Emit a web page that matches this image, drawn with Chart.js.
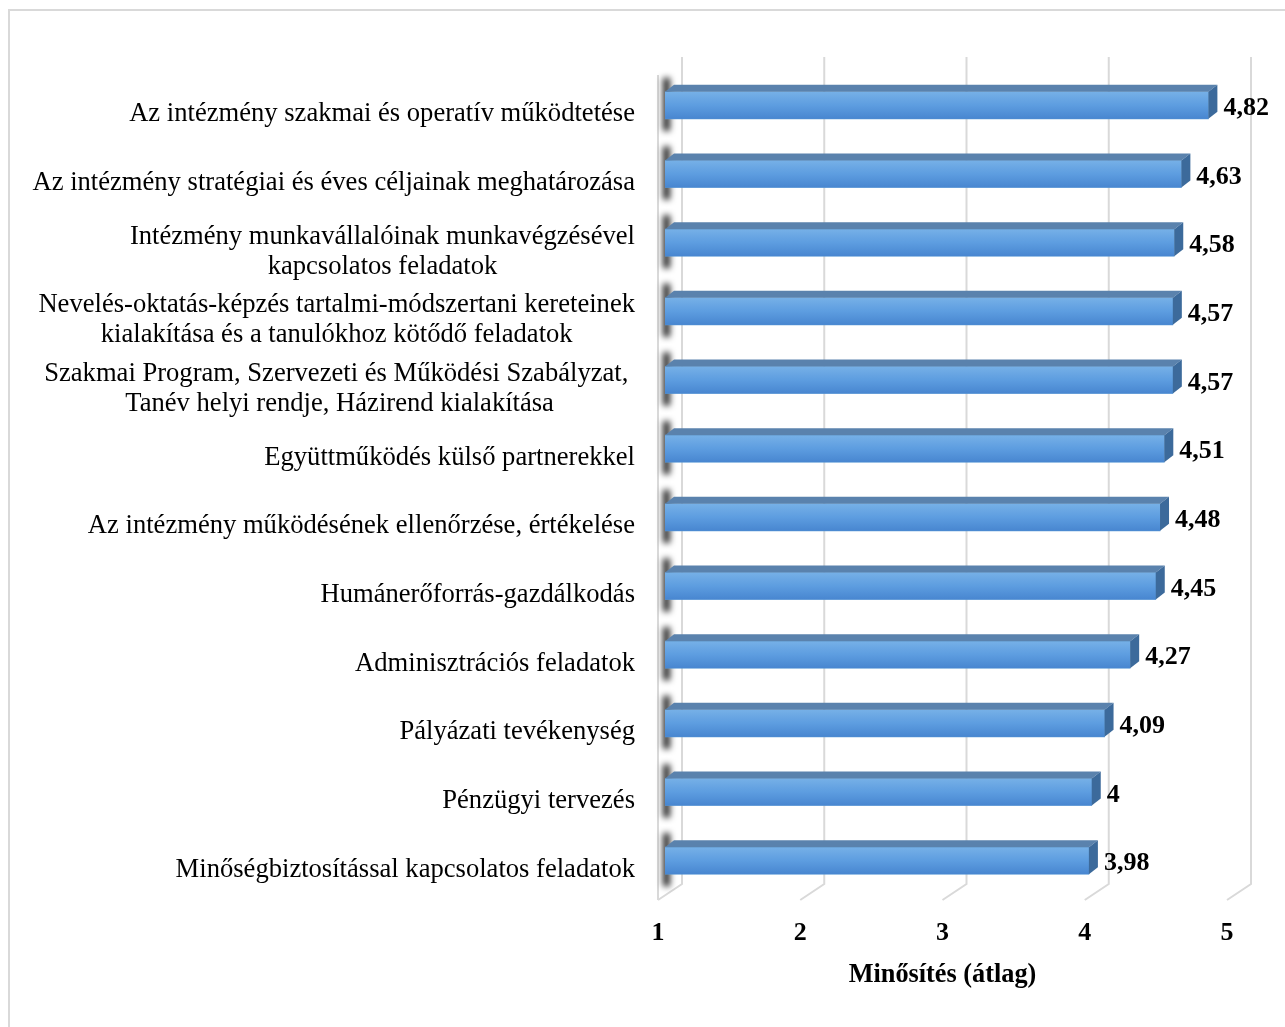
<!DOCTYPE html>
<html>
<head>
<meta charset="utf-8">
<script src="https://cdn.jsdelivr.net/npm/chart.js@4.4.0/dist/chart.umd.min.js"></script>
<style>
  html, body { margin: 0; padding: 0; background: #fff; overflow: hidden; }
  #frame { position: absolute; left: 8px; top: 9px; width: 1400px; height: 1100px; border: 2px solid #d9d9d9; }
  #wrap { position: absolute; left: 0; top: 0; width: 1285px; height: 1027px; }
</style>
</head>
<body>
<div id="frame"></div>
<div id="wrap"><canvas id="chart" width="1285" height="1027"></canvas></div>
<script>
// categories (multi-line labels are split into lines)
const categories = [
  ['Az intézmény szakmai és operatív működtetése'],
  ['Az intézmény stratégiai és éves céljainak meghatározása'],
  ['Intézmény munkavállalóinak munkavégzésével', 'kapcsolatos feladatok'],
  ['Nevelés-oktatás-képzés tartalmi-módszertani kereteinek', 'kialakítása és a tanulókhoz kötődő feladatok'],
  ['Szakmai Program, Szervezeti és Működési Szabályzat, ', 'Tanév helyi rendje, Házirend kialakítása'],
  ['Együttműködés külső partnerekkel'],
  ['Az intézmény működésének ellenőrzése, értékelése'],
  ['Humánerőforrás-gazdálkodás'],
  ['Adminisztrációs feladatok'],
  ['Pályázati tevékenység'],
  ['Pénzügyi tervezés'],
  ['Minőségbiztosítással kapcsolatos feladatok']
];
const values = [4.82, 4.63, 4.58, 4.57, 4.57, 4.51, 4.48, 4.45, 4.27, 4.09, 4, 3.98];
const axisTicks = [1, 2, 3, 4, 5];
const axisTitle = 'Minősítés (átlag)';

const FONT = '"Liberation Serif", "Times New Roman", serif';
const DX = 9, DY = 7; // bar depth

const fmt = v => String(v).replace('.', ',');

// back wall, floor lines and the shadows on the left wall
const wallPlugin = {
  id: 'wall',
  beforeDatasetsDraw(chart) {
    const { ctx, chartArea: a, scales: { x } } = chart;
    const backTop = a.top - 14, backBottom = a.bottom - 11, frontBottom = a.bottom + 5;
    ctx.save();
    ctx.strokeStyle = '#d9d9d9';
    ctx.lineWidth = 2;
    axisTicks.forEach(v => {
      const px = x.getPixelForValue(v);
      ctx.beginPath();
      ctx.moveTo(px + 17, backTop);
      ctx.lineTo(px + 17, backBottom);
      ctx.lineTo(px - 7, frontBottom);
      ctx.stroke();
    });
    const left = x.getPixelForValue(axisTicks[0]) - 7;
    ctx.beginPath();
    ctx.moveTo(left, a.top + 4);
    ctx.lineTo(left, frontBottom);
    ctx.stroke();

    chart.getDatasetMeta(0).data.forEach(bar => {
      const { base, y, height } = bar.getProps(['base', 'y', 'height'], true);
      ctx.save();
      ctx.filter = 'blur(3px)';
      ctx.fillStyle = 'rgba(0,0,0,0.85)';
      ctx.fillRect(base - 2, y - height / 2 - 14, 7, height + 26);
      ctx.restore();
    });
    ctx.restore();
  }
};

// 3d faces of the bars + labels
const barPlugin = {
  id: 'bars3d',
  afterDatasetsDraw(chart) {
    const { ctx } = chart;
    ctx.save();
    chart.getDatasetMeta(0).data.forEach((bar, i) => {
      const { x: end, base, y, height } = bar.getProps(['x', 'base', 'y', 'height'], true);
      const top = y - height / 2, bottom = y + height / 2;

      const g = ctx.createLinearGradient(0, top, 0, bottom);
      g.addColorStop(0, '#76b0e7');
      g.addColorStop(0.5, '#5d9de0');
      g.addColorStop(1, '#4886d0');
      ctx.fillStyle = g;
      ctx.fillRect(base, top, end - base, height);

      ctx.fillStyle = '#5a82ad';
      ctx.beginPath();
      ctx.moveTo(base, top);
      ctx.lineTo(base + DX, top - DY);
      ctx.lineTo(end + DX, top - DY);
      ctx.lineTo(end, top);
      ctx.closePath();
      ctx.fill();

      ctx.fillStyle = '#3c6a9b';
      ctx.beginPath();
      ctx.moveTo(end, top);
      ctx.lineTo(end + DX, top - DY);
      ctx.lineTo(end + DX, bottom - DY);
      ctx.lineTo(end, bottom);
      ctx.closePath();
      ctx.fill();

      ctx.fillStyle = '#000';
      ctx.font = 'bold 26px ' + FONT;
      ctx.textAlign = 'left';
      ctx.textBaseline = 'middle';
      ctx.fillText(fmt(values[i]), end + 15, y + 3);
    });
    ctx.restore();
  },
  afterDraw(chart) {
    const { ctx, chartArea: a, scales: { x, y } } = chart;
    ctx.save();
    ctx.fillStyle = '#000';
    ctx.textAlign = 'center';
    ctx.textBaseline = 'middle';

    // category labels: block right aligned, lines centred inside the block
    ctx.font = '26.6px ' + FONT;
    const right = a.left - 30, lineH = 30;
    categories.forEach((lines, i) => {
      const cy = y.getPixelForValue(i) + 9;
      const w = Math.max(...lines.map(l => ctx.measureText(l).width));
      const cx = right - w / 2;
      lines.forEach((l, k) => {
        ctx.fillText(l, cx, cy + (k - (lines.length - 1) / 2) * lineH);
      });
    });

    // axis title, centred under the front tick labels
    ctx.font = 'bold 26.3px ' + FONT;
    const first = x.getPixelForValue(axisTicks[0]) - 7;
    const last = x.getPixelForValue(axisTicks[axisTicks.length - 1]) - 7;
    ctx.fillText(axisTitle, (first + last) / 2, a.bottom + 80);
    ctx.restore();
  }
};

new Chart(document.getElementById('chart'), {
  type: 'bar',
  data: {
    labels: categories.map(c => c.join(' ')),
    datasets: [{
      data: values,
      base: axisTicks[0],
      backgroundColor: '#5b9bd5',
      barThickness: 27,
      borderWidth: 0
    }]
  },
  options: {
    indexAxis: 'y',
    responsive: false,
    devicePixelRatio: 1,
    animation: false,
    layout: { padding: { left: 665, right: 51, top: 71, bottom: 0 } },
    plugins: { legend: { display: false }, tooltip: { enabled: false } },
    scales: {
      y: { display: false },
      x: {
        min: 1,
        max: 5,
        beginAtZero: false,
        afterBuildTicks: s => { s.ticks = axisTicks.map(v => ({ value: v })); },
        afterFit: s => { s.height = 132; },
        grid: { display: false, drawTicks: false },
        border: { display: false },
        ticks: {
          color: '#000',
          font: { family: FONT, size: 26, weight: 'bold' },
          labelOffset: -7,
          padding: 23,
          maxRotation: 0
        }
      }
    }
  },
  plugins: [wallPlugin, barPlugin]
});
</script>
</body>
</html>
